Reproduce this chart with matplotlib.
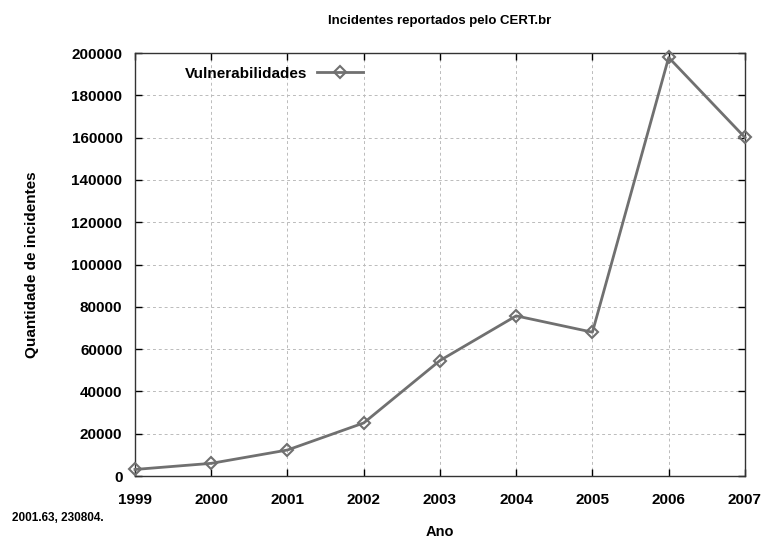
import matplotlib

matplotlib.use("Agg")

import matplotlib.pyplot as plt

years = [1999, 2000, 2001, 2002, 2003, 2004, 2005, 2006, 2007]
incidents = [3107, 5997, 12301, 25092, 54607, 75722, 68000, 197892, 160080]
y_ticks = list(range(0, 200001, 20000))

plt.rcParams.update({"font.family": "Liberation Sans", "font.weight": "bold"})

fig = plt.figure(figsize=(7.64, 5.41), dpi=100)
ax = fig.add_axes([0.1767, 0.1201, 0.7983, 0.7819])

ax.plot(years, incidents, color="#707070", linewidth=2.0, marker="D", markersize=6,
        markerfacecolor="none", markeredgecolor="#707070", markeredgewidth=1.5,
        label="Vulnerabilidades", clip_on=False, zorder=3)

ax.set_xlim(1999, 2007)
ax.set_ylim(0, 200000)
ax.set_xticks(years)
ax.set_yticks(y_ticks)
ax.tick_params(axis="both", direction="in", length=5, width=1, top=True, right=True,
               labelsize=11, pad=9)
ax.tick_params(axis="x", pad=12)
for lab in ax.get_xticklabels() + ax.get_yticklabels():
    lab.set_fontweight("bold")

ax.grid(True, color="#bbbbbb", linestyle=(0, (3, 3)), linewidth=0.7)
for sp in ax.spines.values():
    sp.set_color("#333333")
    sp.set_linewidth(1.0)

ax.set_title("Incidentes reportados pelo CERT.br", fontsize=9.5, fontweight="bold", pad=21)
ax.set_xlabel("Ano", fontsize=10.5, fontweight="bold", va="center")
ax.xaxis.set_label_coords(0.5, -0.132)
ax.set_ylabel("Quantidade de incidentes", fontsize=11, fontweight="bold", va="center")
ax.yaxis.set_label_coords(-0.169, 0.499)

leg = ax.legend(loc="upper left", bbox_to_anchor=(0.06, 1.0), frameon=False,
                markerfirst=False, fontsize=11, handlelength=3.0, handletextpad=0.6)
for t in leg.get_texts():
    t.set_fontweight("bold")

fig.text(0.016, 0.037, "2001.63, 230804.", fontsize=8.5, fontweight="bold")

fig.savefig("out.png", dpi=100)
